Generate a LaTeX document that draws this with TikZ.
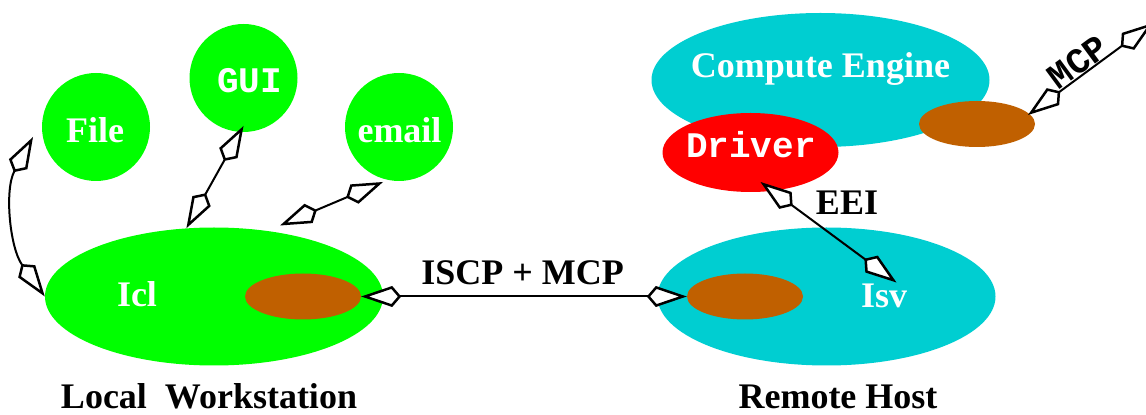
\documentclass[tikz,border=0pt]{standalone}
\usepackage{fontspec}
\setmainfont{Liberation Serif}
\setmonofont{Liberation Mono}
\usetikzlibrary{arrows.meta,shapes.geometric}
\definecolor{limeg}{RGB}{0,255,0}
\definecolor{hostcyan}{RGB}{0,206,209}
\definecolor{portbrown}{RGB}{192,96,0}
\definecolor{drvred}{RGB}{255,0,0}
\begin{document}
\begin{tikzpicture}[x=1pt,y=1pt,
  rmlabel/.style={font=\fontsize{36}{40}\selectfont\bfseries, inner sep=0pt, anchor=base},
  ttlabel/.style={font=\fontsize{36}{40}\selectfont\ttfamily\bfseries, inner sep=0pt, anchor=base},
  disc/.style={circle, fill=limeg, minimum size=108pt, inner sep=0pt},
  region/.style={ellipse, inner sep=0pt, minimum width=338pt, minimum height=138pt},
  port/.style={ellipse, fill=portbrown, minimum width=116pt, minimum height=46pt, inner sep=0pt},
  kt/.tip={Kite[fill=white, length=40pt, width=21pt, inset=9pt, line width=2.5pt]},
  link/.style={draw=black, line width=2pt, line join=miter, {kt}-{kt}},
]
\useasboundingbox (0,0) rectangle (1146,415);

% local workstation side
\node[disc] (file)  at (96,288) {};
\node[disc] (gui)   at (243.5,337) {};
\node[disc] (email) at (399,288) {};
\node[region, fill=limeg] (icl) at (214,118.5) {};
\node[port] (iclport) at (303,118.5) {};

% remote host side
\node[region, fill=hostcyan, minimum height=134pt] (ce) at (820.5,335) {};
\node[ellipse, fill=drvred, minimum width=176pt, minimum height=79pt, inner sep=0pt] (driver) at (750.5,262.5) {};
\node[port] (ceport) at (977,291) {};
\node[region, fill=hostcyan] (isv) at (826.5,118.5) {};
\node[port] (isvport) at (745,118.5) {};

% connector ends
\coordinate (fileend)  at ([shift={(-63,-10)}]file.center);
\coordinate (guiend)   at ([shift={(0,-48)}]gui.center);
\coordinate (emailend) at ([shift={(-16,-55)}]email.center);
\coordinate (iclmail)  at ([shift={(66,71)}]icl.center);
\coordinate (drvend)   at ([shift={(10,-29.5)}]driver.center);
\coordinate (isvend)   at ([shift={(70,14)}]isv.center);
\coordinate (ceend)    at ([shift={(51,9)}]ceport.center);
\coordinate (mcpfar)   at (1153,392);

% connectors
\draw[link] (icl.180) .. controls +(125.7:60) and +(241.4:60) .. (fileend);
\draw[link] (icl.112) -- (guiend);
\draw[link] (iclmail) -- (emailend);
\draw[link] (iclport.east) -- (isvport.west);
\draw[link] (drvend) -- (isvend);
\draw[link] (ceend) -- node[pos=0.46, sloped, above, inner sep=0pt, font=\fontsize{36}{40}\selectfont\ttfamily\bfseries] (mcplbl) {MCP} (mcpfar);

% labels
\node[rmlabel, white] (lfile)  at (95,272) {File};
\node[ttlabel, white] (lgui)   at (249.5,322) {GUI};
\node[rmlabel, white] (lemail) at (399.5,272) {email};
\node[rmlabel, white] (licl)   at (137,108) {Icl};
\node[rmlabel, white] (lisv)   at (884,107) {Isv};
\node[rmlabel, white] (lce)    at (820.5,337) {Compute Engine};
\node[ttlabel, white] (ldrv)   at (751,257) {Driver};
\node[rmlabel] (liscp) at (522.5,130) {ISCP + MCP};
\node[rmlabel] (leei)  at (847,200) {EEI};
\node[rmlabel] (llocal)  at (209,6) {Local\ \ Workstation};
\node[rmlabel] (lremote) at (838,6) {Remote Host};
\end{tikzpicture}
\end{document}
